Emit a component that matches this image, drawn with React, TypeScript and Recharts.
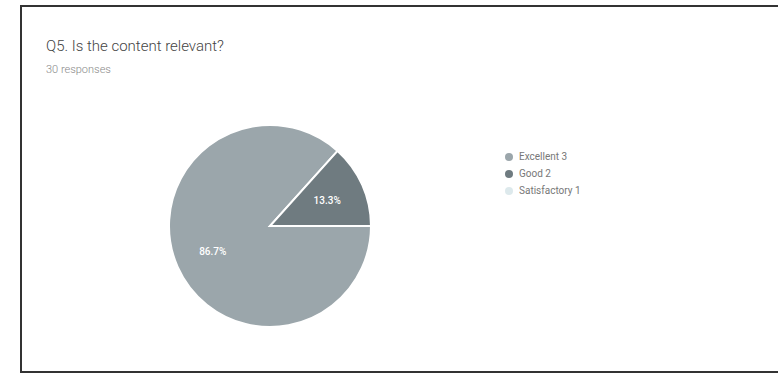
import React from "react";
import { PieChart, Pie, Cell, Legend } from "recharts";

const categories = ["Excellent 3", "Good 2", "Satisfactory 1"];
const counts = [26, 4, 0];
const colors = ["#9ba6ab", "#6f7b80", "#dde9ec"];
const title = "Q5. Is the content relevant?";
const subtitle = "30 responses";

const data = categories.map((name, i) => ({ name, value: counts[i] }));
const RADIAN = Math.PI / 180;

const renderLabel = (props: any) => {
  const { cx, cy, midAngle, outerRadius, percent, value } = props;
  if (!value) return null;
  const r = outerRadius * 0.62;
  const x = cx + r * Math.cos(-midAngle * RADIAN);
  const y = cy + r * Math.sin(-midAngle * RADIAN);
  return (
    <text x={x} y={y} fill="#ffffff" fontSize={10} fontWeight={500} textAnchor="middle" dominantBaseline="central" fontFamily="Roboto, sans-serif">
      {(percent * 100).toFixed(1)}%
    </text>
  );
};

const renderLegend = () => (
  <div style={{ fontFamily: "Roboto, sans-serif", fontSize: 10, color: "#777" }}>
    {data.map((d, i) => (
      <div key={d.name} style={{ display: "flex", alignItems: "center", height: 17 }}>
        <span style={{ display: "inline-block", width: 8, height: 8, borderRadius: 4, background: colors[i], marginRight: 6 }} />
        <span>{d.name}</span>
      </div>
    ))}
  </div>
);

export default function App() {
  return (
    <div style={{ position: "fixed", left: 0, top: 0, width: 778, height: 380, background: "#fff", overflow: "hidden" }}>
      <div style={{ position: "absolute", left: 20, top: 5, width: 780, height: 364, borderTop: "2px solid #333", borderLeft: "2px solid #333", borderBottom: "2px solid #333" }} />
      <div style={{ position: "absolute", left: 46, top: 37, fontFamily: "Roboto, sans-serif", fontSize: 15, fontWeight: 300, color: "#444" }}>{title}</div>
      <div style={{ position: "absolute", left: 46, top: 63, fontFamily: "Roboto, sans-serif", fontSize: 11, fontWeight: 300, color: "#888" }}>{subtitle}</div>
      <div style={{ position: "absolute", left: 0, top: 0 }}>
        <PieChart width={778} height={380}>
          <Pie
            data={data}
            dataKey="value"
            nameKey="name"
            cx={265}
            cy={221}
            outerRadius={101}
            startAngle={0}
            endAngle={-360}
            stroke="#ffffff"
            strokeWidth={2}
            label={renderLabel}
            labelLine={false}
            isAnimationActive={false}
          >
            {data.map((d, i) => (
              <Cell key={d.name} fill={colors[i]} />
            ))}
          </Pie>
          <Legend content={renderLegend} layout="vertical" wrapperStyle={{ position: "absolute", left: 505, top: 148, width: 150 }} />
        </PieChart>
      </div>
    </div>
  );
}
